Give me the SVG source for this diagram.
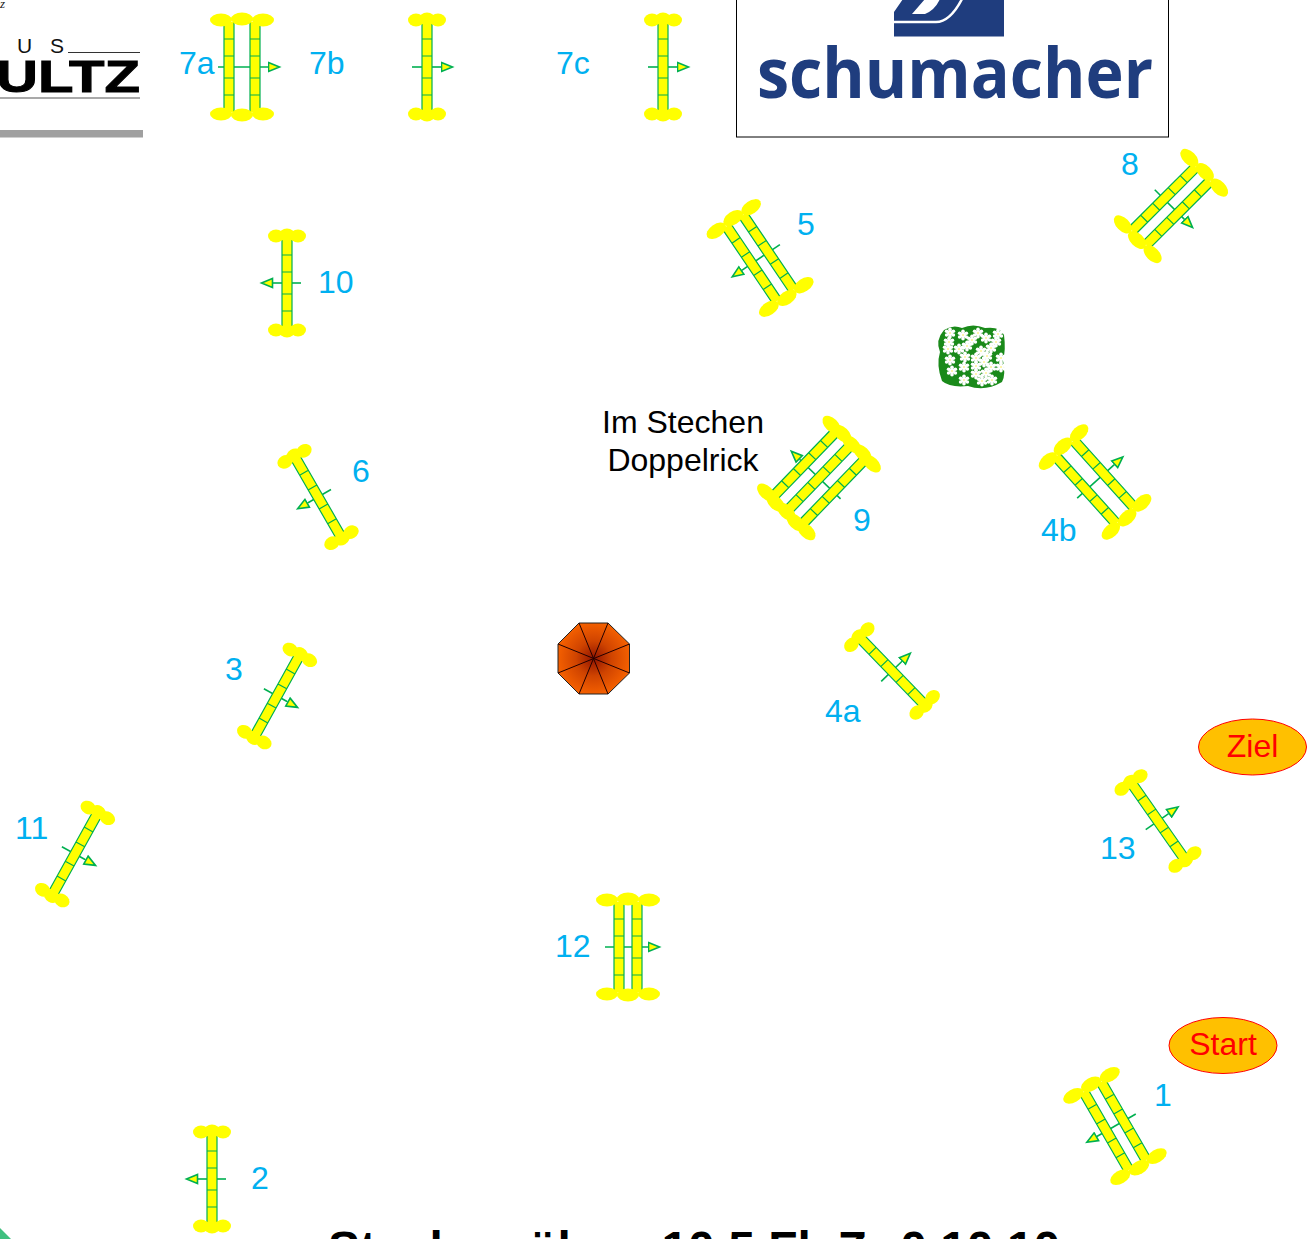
<svg xmlns="http://www.w3.org/2000/svg" width="1313" height="1239" viewBox="0 0 1313 1239">
<style>
text{font-family:"Liberation Sans",Arial,sans-serif}
.lab{font-size:32px;fill:#00b0f0}
.note{font-size:32px;fill:#000;text-anchor:middle}
.ft{fill:#ff0;stroke:none}
.stem{stroke:#00b050;stroke-width:1.6;fill:none}
.rf{fill:#ff0;stroke:none}
.rl{stroke:#00b050;stroke-width:1.2;fill:none}
.oval{stroke:#f00;stroke-width:1;fill:#ffc000}
.ovt{font-size:32px;fill:#f00;text-anchor:middle}
.sp{stroke:#200;stroke-width:1;fill:none}
</style>
<defs>
<marker id="ah" markerUnits="userSpaceOnUse" markerWidth="16" markerHeight="14" refX="0.5" refY="7" orient="auto">
<path d="M1 2.5L12 7L1 11.5Z" fill="#ff0" stroke="#00b050" stroke-width="1.6"/>
</marker>
<g id="rail">
<rect class="rf" x="-5" y="-45" width="10" height="90"/>
<path class="rl" d="M-5-45V45M5-45V45M-5-28H5M-5-11H5M-5 11H5M-5 28H5"/>
</g>
<g id="blob"><ellipse class="ft" cx="0" cy="0" rx="8" ry="6.500"/></g>
<g id="big"><ellipse class="ft" cx="0" cy="0" rx="11" ry="6.500"/></g>
<g id="f1">
<use href="#blob" x="-11" y="-47"/><use href="#blob" x="0" y="-48"/><use href="#blob" x="11" y="-47"/>
<use href="#blob" x="-11" y="47"/><use href="#blob" x="0" y="48"/><use href="#blob" x="11" y="47"/>
</g>
<g id="f2">
<use href="#big" x="-21" y="-47"/><use href="#big" x="0" y="-48"/><use href="#big" x="21" y="-47"/>
<use href="#big" x="-21" y="47"/><use href="#big" x="0" y="48"/><use href="#big" x="21" y="47"/>
</g>
<g id="f3">
<use href="#big" x="-28" y="-47"/><use href="#big" x="-14" y="-48"/><use href="#big" x="0" y="-47"/><use href="#big" x="14" y="-48"/><use href="#big" x="28" y="-47"/>
<use href="#big" x="-28" y="47"/><use href="#big" x="-14" y="48"/><use href="#big" x="0" y="47"/><use href="#big" x="14" y="48"/><use href="#big" x="28" y="47"/>
</g>
<g id="fl">
<g fill="#fff"><circle r="3"/><circle cx="0" cy="-3.800" r="1.800"/><circle cx="3.400" cy="-1.800" r="1.800"/><circle cx="3.400" cy="2" r="1.800"/><circle cx="0" cy="3.800" r="1.800"/><circle cx="-3.400" cy="2" r="1.800"/><circle cx="-3.400" cy="-1.800" r="1.800"/></g>
<circle r="0.800" fill="#ffe840"/>
</g>
<radialGradient id="um" cx="0.5" cy="0.5" r="0.55">
<stop offset="0" stop-color="#901400"/><stop offset="0.45" stop-color="#d04400"/><stop offset="1" stop-color="#fa6400"/>
</radialGradient>
</defs>

<g id="logo-schultz">
<text x="0" y="8" style="font-family:'Liberation Serif',serif;font-style:italic" font-size="13" fill="#222">z</text>
<text x="17" y="53" font-size="21" fill="#111">U</text>
<text x="50" y="53" font-size="21" fill="#111">S</text>
<path d="M68 52.500H140" stroke="#333" stroke-width="1.200"/>
<text x="-4" y="92" font-size="45" font-weight="bold" fill="#000" stroke="#000" stroke-width="1" textLength="144" lengthAdjust="spacingAndGlyphs">ULTZ</text>
<path d="M0 98H140" stroke="#555" stroke-width="1.200"/>
<rect x="0" y="130" width="143" height="7.500" fill="#a0a0a0"/>
</g>

<g id="logo-schumacher">
<rect x="736.500" y="-2" width="432" height="139" fill="#fff" stroke="#000" stroke-width="1"/>
<rect x="894" y="-1" width="110" height="37.500" fill="#1f3d7e"/>
<path d="M894 22H936Q950 22 962-1" fill="none" stroke="#fff" stroke-width="2.500"/>
<path d="M894-1H903L894 12ZM925-1L912 14H925Q935 10 940-1Z" fill="#fff"/>
<text x="757" y="98" style="font-family:'Open Sans','Noto Sans',sans-serif" font-size="70" font-weight="700" fill="#1f3d7e" textLength="396" lengthAdjust="spacingAndGlyphs">schumacher</text>
</g>

<g id="jump-7a" transform="translate(242 67) rotate(180)">
<line class="stem" x1="24" y1="0" x2="-26" y2="0" marker-end="url(#ah)"/>
<use href="#rail" x="-13"/><use href="#rail" x="13"/><use href="#f2"/>
</g>
<text class="lab" x="179" y="74">7a</text>
<text class="lab" x="309" y="74">7b</text>
<g id="jump-7b" transform="translate(427 67) rotate(180)">
<line class="stem" x1="15" y1="0" x2="-14" y2="0" marker-end="url(#ah)"/>
<use href="#rail"/><use href="#f1"/>
</g>
<text class="lab" x="556" y="74">7c</text>
<g id="jump-7c" transform="translate(663 67) rotate(180)">
<line class="stem" x1="15" y1="0" x2="-14" y2="0" marker-end="url(#ah)"/>
<use href="#rail"/><use href="#f1"/>
</g>

<g id="jump-5" transform="translate(760 258) rotate(-34)">
<line class="stem" x1="24" y1="0" x2="-22" y2="0" marker-end="url(#ah)"/>
<use href="#rail" x="-10"/><use href="#rail" x="10"/><use href="#f2"/>
</g>
<text class="lab" x="797" y="235">5</text>

<g id="jump-8" transform="translate(1171 206) rotate(-135)">
<line class="stem" x1="23" y1="0" x2="-19" y2="0" marker-end="url(#ah)"/>
<use href="#rail" x="-10"/><use href="#rail" x="10"/><use href="#f2"/>
</g>
<text class="lab" x="1121" y="175">8</text>

<g id="jump-10" transform="translate(287 283)">
<line class="stem" x1="14" y1="0" x2="-14" y2="0" marker-end="url(#ah)"/>
<use href="#rail"/><use href="#f1"/>
</g>
<text class="lab" x="318" y="293">10</text>

<g id="hedge">
<path d="M944 330Q953 324 962 328Q973 323 985 328Q1000 326 1004 335Q1006 350 1003 360Q1006 375 1002 382Q985 392 968 386Q950 388 942 381Q936 365 940 352Q935 340 944 330Z" fill="#1a8a1a"/>
<use href="#fl" x="950" y="333"/><use href="#fl" x="963" y="335"/><use href="#fl" x="978" y="333"/><use href="#fl" x="998" y="334"/>
<use href="#fl" x="949" y="342"/><use href="#fl" x="972" y="340"/><use href="#fl" x="986" y="338"/><use href="#fl" x="996" y="342"/>
<use href="#fl" x="948" y="349"/><use href="#fl" x="959" y="349"/><use href="#fl" x="967" y="346"/><use href="#fl" x="981" y="351"/><use href="#fl" x="991" y="348"/>
<use href="#fl" x="950" y="360"/><use href="#fl" x="965" y="357"/><use href="#fl" x="976" y="358"/><use href="#fl" x="987" y="356"/><use href="#fl" x="1001" y="358"/>
<use href="#fl" x="952" y="371"/><use href="#fl" x="964" y="367"/><use href="#fl" x="976" y="366"/><use href="#fl" x="984" y="362"/><use href="#fl" x="991" y="367"/><use href="#fl" x="1001" y="367"/>
<use href="#fl" x="964" y="380"/><use href="#fl" x="976" y="374"/><use href="#fl" x="986" y="373"/><use href="#fl" x="982" y="381"/><use href="#fl" x="992" y="380"/>
</g>

<text class="note" x="683" y="433">Im Stechen</text>
<text class="note" x="683" y="471">Doppelrick</text>

<g id="jump-6" transform="translate(318 497) rotate(-30)">
<line class="stem" x1="15" y1="0" x2="-12" y2="0" marker-end="url(#ah)"/>
<use href="#rail"/><use href="#f1"/>
</g>
<text class="lab" x="352" y="482">6</text>

<g id="jump-9" transform="translate(819 478) rotate(44)">
<line class="stem" x1="30" y1="0" x2="-27" y2="0" marker-end="url(#ah)"/>
<use href="#rail" x="-20"/><use href="#rail" x="0"/><use href="#rail" x="20"/><use href="#f3"/>
</g>
<text class="lab" x="853" y="531">9</text>

<g id="jump-4b" transform="translate(1095 482) rotate(138)">
<line class="stem" x1="24" y1="0" x2="-26" y2="0" marker-end="url(#ah)"/>
<use href="#rail" x="-12"/><use href="#rail" x="12"/><use href="#f2"/>
</g>
<text class="lab" x="1041" y="541">4b</text>

<g id="umbrella">
<path d="M579 623H608L629.500 644V673L608 694H579L558 673V644Z" fill="url(#um)" stroke="#222" stroke-width="1"/>
<path class="sp" d="M579 623L608 694M608 623L579 694M558 644L629.500 673M629.500 644L558 673"/>
</g>

<g id="jump-3" transform="translate(277 696) rotate(209)">
<line class="stem" x1="15" y1="0" x2="-12" y2="0" marker-end="url(#ah)"/>
<use href="#rail"/><use href="#f1"/>
</g>
<text class="lab" x="225" y="680">3</text>

<g id="jump-4a" transform="translate(892 671) rotate(136)">
<line class="stem" x1="15" y1="0" x2="-14" y2="0" marker-end="url(#ah)"/>
<use href="#rail"/><use href="#f1"/>
</g>
<text class="lab" x="825" y="722">4a</text>

<g id="ziel">
<ellipse class="oval" cx="1252.500" cy="747" rx="54" ry="28"/>
<text class="ovt" x="1252.500" y="757">Ziel</text>
</g>

<g id="jump-13" transform="translate(1158 821) rotate(145)">
<line class="stem" x1="15" y1="0" x2="-13" y2="0" marker-end="url(#ah)"/>
<use href="#rail"/><use href="#f1"/>
</g>
<text class="lab" x="1100" y="859">13</text>

<g id="jump-11" transform="translate(75 854) rotate(209)">
<line class="stem" x1="15" y1="0" x2="-12" y2="0" marker-end="url(#ah)"/>
<use href="#rail"/><use href="#f1"/>
</g>
<text class="lab" x="15" y="839">11</text>

<g id="jump-12" transform="translate(628 947) rotate(180)">
<line class="stem" x1="23" y1="0" x2="-20" y2="0" marker-end="url(#ah)"/>
<use href="#rail" x="-9"/><use href="#rail" x="9"/><use href="#f2"/>
</g>
<text class="lab" x="555" y="957">12</text>

<g id="start">
<ellipse class="oval" cx="1223" cy="1045.500" rx="54" ry="28"/>
<text class="ovt" x="1223" y="1055">Start</text>
</g>

<g id="jump-1" transform="translate(1115 1126) rotate(-30)">
<line class="stem" x1="24" y1="0" x2="-21" y2="0" marker-end="url(#ah)"/>
<use href="#rail" x="-10"/><use href="#rail" x="10"/><use href="#f2"/>
</g>
<text class="lab" x="1154" y="1106">1</text>

<g id="jump-2" transform="translate(212 1179)">
<line class="stem" x1="14" y1="0" x2="-14" y2="0" marker-end="url(#ah)"/>
<use href="#rail"/><use href="#f1"/>
</g>
<text class="lab" x="251" y="1189">2</text>

<path d="M0 1228L12 1240H0Z" fill="#40c080"/>
<text x="328" y="1265" font-size="48" font-weight="bold" fill="#000">Stechen über: 10.5 Fl. Z: <tspan dx="4">0.10.10</tspan></text>
</svg>
